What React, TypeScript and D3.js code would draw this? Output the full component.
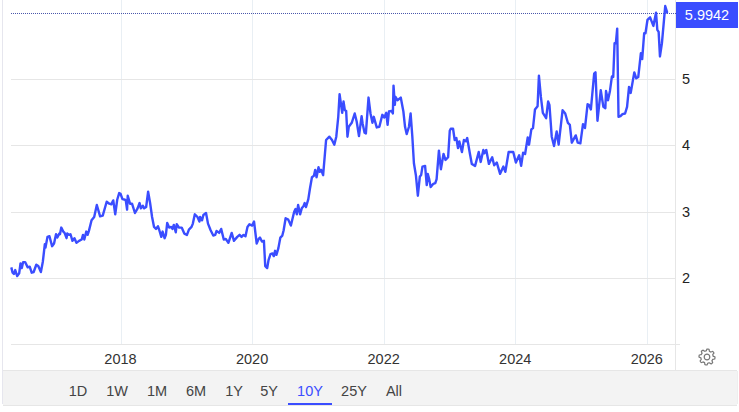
import * as d3 from "d3";
import React from "react";

const width = 739;
const height = 412;

// decimal years
const years = [
  2016.34, 2016.36, 2016.38, 2016.40, 2016.43, 2016.46, 2016.48, 2016.50, 2016.52, 2016.55,
  2016.59, 2016.62, 2016.65, 2016.68, 2016.72, 2016.75, 2016.79, 2016.82, 2016.85, 2016.86,
  2016.89, 2016.92, 2016.96, 2016.99, 2017.02, 2017.04, 2017.07, 2017.08, 2017.10, 2017.13,
  2017.15, 2017.18, 2017.19, 2017.22, 2017.24, 2017.27, 2017.30, 2017.33, 2017.37, 2017.41,
  2017.43, 2017.45, 2017.48, 2017.50, 2017.52, 2017.56, 2017.60, 2017.64, 2017.69, 2017.73,
  2017.79, 2017.83, 2017.86, 2017.89, 2017.92, 2017.95, 2017.98, 2018.00,
  2018.03, 2018.07, 2018.08, 2018.10, 2018.11, 2018.145, 2018.175, 2018.22, 2018.26, 2018.29,
  2018.31, 2018.34, 2018.36, 2018.39, 2018.42, 2018.45, 2018.48, 2018.51, 2018.54, 2018.57,
  2018.59, 2018.62, 2018.64, 2018.67, 2018.69, 2018.71, 2018.74, 2018.77, 2018.79, 2018.81,
  2018.84, 2018.855, 2018.89, 2018.93, 2018.97, 2019.01, 2019.04, 2019.08, 2019.10, 2019.13,
  2019.17, 2019.20, 2019.21, 2019.24, 2019.26, 2019.30, 2019.33, 2019.37, 2019.41, 2019.44,
  2019.46, 2019.50, 2019.53, 2019.57, 2019.60, 2019.64, 2019.69, 2019.725, 2019.775, 2019.81,
  2019.84, 2019.87, 2019.90, 2019.93, 2019.96, 2020.00, 2020.03, 2020.07, 2020.10, 2020.12,
  2020.15, 2020.18, 2020.20, 2020.23, 2020.25, 2020.28, 2020.31, 2020.33, 2020.35, 2020.37,
  2020.40, 2020.43, 2020.46, 2020.48, 2020.51, 2020.55, 2020.59, 2020.64, 2020.66, 2020.68,
  2020.70, 2020.73, 2020.755, 2020.78, 2020.80, 2020.82, 2020.855, 2020.88, 2020.91, 2020.94,
  2020.96, 2020.98, 2021.01, 2021.03, 2021.05, 2021.08, 2021.125, 2021.175, 2021.215, 2021.25,
  2021.28, 2021.31, 2021.33, 2021.37, 2021.39, 2021.41, 2021.43, 2021.45, 2021.47, 2021.515,
  2021.56, 2021.59, 2021.625, 2021.665, 2021.68, 2021.71, 2021.73, 2021.77, 2021.80, 2021.83,
  2021.85, 2021.895, 2021.935, 2021.98, 2022.01, 2022.04, 2022.06, 2022.08, 2022.12, 2022.14,
  2022.15, 2022.17, 2022.18, 2022.21, 2022.26, 2022.30, 2022.325, 2022.35, 2022.385, 2022.41,
  2022.436, 2022.46, 2022.49, 2022.52, 2022.55, 2022.57, 2022.59, 2022.63, 2022.655, 2022.67,
  2022.69, 2022.715, 2022.755, 2022.785, 2022.805, 2022.84, 2022.87, 2022.91, 2022.94, 2022.98,
  2023.005, 2023.02, 2023.055, 2023.08, 2023.105, 2023.13, 2023.15, 2023.19, 2023.22, 2023.25,
  2023.27, 2023.31, 2023.34, 2023.39, 2023.445, 2023.475, 2023.515, 2023.53, 2023.56, 2023.60,
  2023.65, 2023.68, 2023.72, 2023.77, 2023.82, 2023.85, 2023.90, 2023.97, 2024.01, 2024.06,
  2024.09, 2024.12, 2024.15, 2024.19, 2024.21, 2024.245, 2024.27, 2024.30, 2024.34, 2024.36,
  2024.39, 2024.42, 2024.47, 2024.50, 2024.52, 2024.555, 2024.59, 2024.63, 2024.66, 2024.72,
  2024.76, 2024.80, 2024.83, 2024.86, 2024.92, 2024.95, 2024.99, 2025.03, 2025.06, 2025.10,
  2025.12, 2025.15, 2025.20, 2025.22, 2025.25, 2025.30, 2025.34, 2025.37, 2025.38, 2025.41,
  2025.44, 2025.47, 2025.49, 2025.51, 2025.53, 2025.55, 2025.57, 2025.60, 2025.63, 2025.67,
  2025.70, 2025.73, 2025.755, 2025.81, 2025.84, 2025.87, 2025.91, 2025.93, 2025.96, 2025.98,
  2026.01, 2026.05, 2026.10, 2026.14, 2026.16, 2026.18, 2026.20, 2026.23, 2026.28, 2026.31, 2026.32,
];

const values = [
  2.16, 2.08, 2.06, 2.12, 2.03, 2.07, 2.22, 2.15, 2.24, 2.24,
  2.16, 2.17, 2.08, 2.09, 2.20, 2.18, 2.09, 2.25, 2.51, 2.46,
  2.62, 2.63, 2.48, 2.52, 2.66, 2.61, 2.67, 2.66, 2.76, 2.70,
  2.68, 2.60, 2.67, 2.65, 2.66, 2.56, 2.60, 2.53, 2.56, 2.58,
  2.65, 2.58, 2.70, 2.65, 2.71, 2.87, 2.92, 3.10, 2.93, 2.94,
  3.15, 3.12, 3.11, 3.17, 2.96, 3.18, 3.28, 3.27,
  3.19, 3.18, 3.17, 3.03, 3.24, 3.12, 3.12, 2.98, 3.05, 3.13,
  3.05, 3.09, 3.05, 3.07, 3.30, 3.13, 2.92, 2.77, 2.74, 2.78,
  2.72, 2.62, 2.70, 2.60, 2.65, 2.83, 2.76, 2.77, 2.74, 2.80,
  2.69, 2.81, 2.76, 2.76, 2.67, 2.65, 2.73, 2.77, 2.82, 2.96,
  2.92, 2.85, 2.92, 2.87, 2.95, 2.98, 2.82, 2.72, 2.64, 2.65,
  2.71, 2.68, 2.74, 2.58, 2.59, 2.53, 2.68, 2.56, 2.62, 2.65,
  2.62, 2.65, 2.63, 2.77, 2.81, 2.79, 2.85, 2.52, 2.59, 2.61,
  2.55, 2.56, 2.18, 2.15, 2.27, 2.36, 2.37, 2.33, 2.41, 2.35,
  2.45, 2.61, 2.64, 2.72, 2.90, 2.88, 2.79, 3.00, 3.04, 2.96,
  3.10, 2.96, 3.05, 3.08, 3.13, 3.07, 3.19, 3.35, 3.52, 3.54,
  3.63, 3.52, 3.67, 3.60, 3.63, 3.55, 4.08, 4.13, 4.08, 4.01,
  4.13, 4.43, 4.77, 4.49, 4.66, 4.53, 4.52, 4.13, 4.28, 4.34,
  4.48, 4.36, 4.14, 4.44, 4.33, 4.19, 4.18, 4.72, 4.48, 4.34,
  4.43, 4.27, 4.28, 4.46, 4.42, 4.49, 4.31, 4.51, 4.52, 4.48,
  4.90, 4.61, 4.73, 4.68, 4.72, 4.51, 4.28, 4.17, 4.28, 4.48,
  4.13, 3.73, 3.55, 3.24, 3.53, 3.55, 3.68, 3.69, 3.40, 3.57,
  3.50, 3.37, 3.42, 3.43, 3.49, 3.92, 3.64, 3.87, 3.78, 3.82,
  4.22, 4.25, 4.25, 4.08, 4.11, 3.96, 4.06, 3.90, 4.08, 4.06,
  4.11, 3.88, 3.72, 3.69, 3.90, 3.75, 3.93, 3.88, 3.93, 3.72,
  3.82, 3.70, 3.74, 3.57, 3.68, 3.60, 3.90, 3.90, 3.74, 3.85,
  3.69, 3.89, 3.87, 4.12, 4.01, 4.24, 4.26, 4.54, 4.59, 5.05,
  4.73, 4.49, 4.41, 4.66, 4.61, 4.13, 3.99, 4.21, 4.01, 4.53,
  4.48, 4.34, 4.31, 4.04, 4.15, 4.04, 4.03, 4.32, 4.26, 4.62,
  4.61, 4.54, 5.08, 5.10, 4.37, 4.83, 4.58, 4.56, 4.82, 4.68,
  4.82, 5.04, 5.03, 5.54, 5.54, 5.76, 4.43, 4.44, 4.47, 4.48,
  4.58, 4.88, 4.79, 5.10, 5.01, 5.03, 5.39, 5.30, 5.69, 5.69,
  5.89, 5.93, 5.80, 6.00, 5.74, 5.71, 5.34, 5.54, 6.10, 6.00, 5.9942,
];

const yTicks = [2, 3, 4, 5];
const xTicks = [2018, 2020, 2022, 2024, 2026];
const ranges = ["1D", "1W", "1M", "6M", "1Y", "5Y", "10Y", "25Y", "All"];
const rangeCenters = [78, 117, 157, 196, 234, 269, 310, 354, 394];
const activeRange = "10Y";
const lastValue = 5.9942;

const blue = "#3a4dff";
const font = "Helvetica, 'Liberation Sans', Arial, sans-serif";

const x = d3.scaleLinear().domain([2018, 2026]).range([120.5, 646.8]);
const y = d3.scaleLinear().domain([2, 5]).range([278, 79]);

const priceLine = d3
  .line<number>()
  .x((_, i) => x(years[i]))
  .y((d) => y(d));

// gear outline: 8 teeth around a ring
const gearRadii = d3.range(48).map((i) => (i % 6 < 3 ? 8 : 6.2));
const gearPath = d3
  .lineRadial<number>()
  .angle((_, i) => (i / 48) * 2 * Math.PI)
  .radius((d) => d)
  .curve(d3.curveCardinalClosed.tension(0.6))(gearRadii);

const App = () => {
  return (
    <svg
      width={width}
      height={height}
      style={{ position: "absolute", left: 0, top: 0, background: "#fff" }}
      fontFamily={font}
    >
      {/* frame */}
      <line x1={2.5} x2={2.5} y1={0} y2={404} stroke="#e6e6ee" />
      <line x1={737.5} x2={737.5} y1={371} y2={404} stroke="#eeeeee" />

      {/* grid */}
      {xTicks.map((t) => (
        <line key={t} x1={Math.round(x(t)) + 0.5} x2={Math.round(x(t)) + 0.5} y1={0} y2={344} stroke="#e9eff4" />
      ))}
      {yTicks.map((t) => (
        <line key={t} x1={11} x2={675} y1={Math.round(y(t)) + 0.5} y2={Math.round(y(t)) + 0.5} stroke="#e6e6e6" />
      ))}
      <line x1={11} x2={680} y1={344.5} y2={344.5} stroke="#e6e6e6" />
      <line x1={675.5} x2={675.5} y1={0} y2={371} stroke="#e6e6e6" />

      {/* last value */}
      <line x1={11} x2={676} y1={13.5} y2={13.5} stroke="#2a3a9c" strokeOpacity={0.85} strokeDasharray="1 1" />

      <path d={priceLine(values) ?? ""} fill="none" stroke={blue} strokeWidth={2.4} strokeLinejoin="round" />

      <rect x={676} y={2} width={62} height={26} fill={blue} />
      <text x={707} y={20} textAnchor="middle" fontSize={14.5} fill="#fff">
        {lastValue.toFixed(4)}
      </text>

      {yTicks.map((t) => (
        <text key={t} x={682} y={y(t) + 5} fontSize={14.5} fill="#222">
          {t}
        </text>
      ))}
      {xTicks.map((t) => (
        <text key={t} x={x(t)} y={364} textAnchor="middle" fontSize={14.5} fill="#333">
          {t}
        </text>
      ))}

      {/* gear */}
      <g transform="translate(707,357)" fill="none" stroke="#777" strokeWidth={1.2}>
        <path d={gearPath ?? ""} />
        <circle r={2.8} />
      </g>

      {/* range selector */}
      <rect x={3} y={371} width={734} height={34} fill="#f3f3f3" />
      <line x1={3} x2={737} y1={370.5} y2={370.5} stroke="#e6e6e6" />
      <line x1={3} x2={737} y1={405.5} y2={405.5} stroke="#e6e6e6" />
      {ranges.map((r, i) => (
        <text
          key={r}
          x={rangeCenters[i]}
          y={396}
          textAnchor="middle"
          fontSize={14.5}
          fill={r === activeRange ? blue : "#444"}
        >
          {r}
        </text>
      ))}
      <rect x={288} y={403} width={44} height={2} fill={blue} />
    </svg>
  );
};

export default App;
